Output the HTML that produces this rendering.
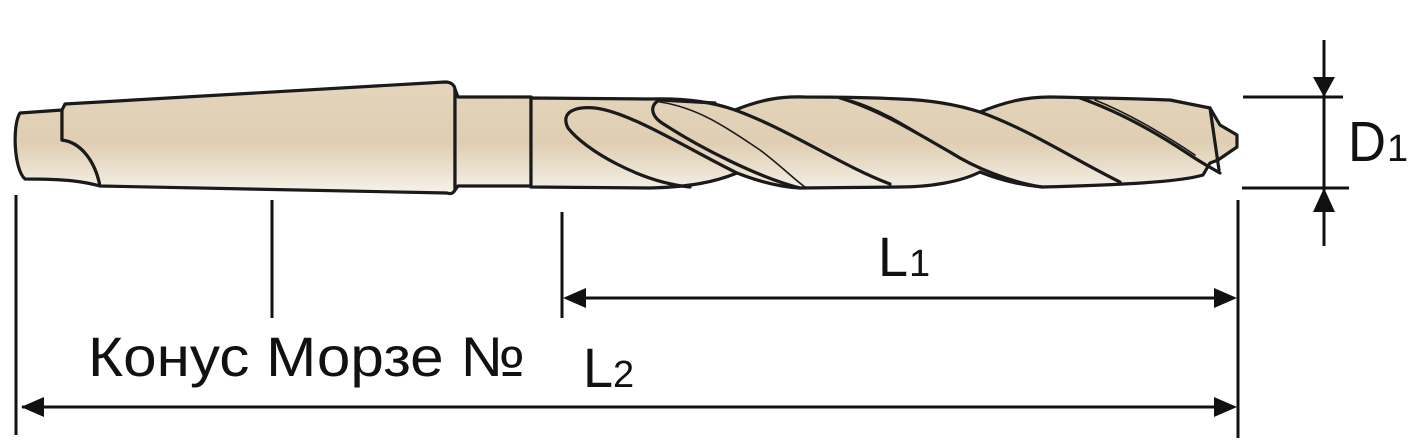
<!DOCTYPE html>
<html><head><meta charset="utf-8"><style>
html,body{margin:0;padding:0;background:#fff;}
svg{display:block;}
text{font-family:"Liberation Sans",sans-serif;fill:#111;}
</style></head><body>
<svg width="1418" height="443" viewBox="0 0 1418 443" xmlns="http://www.w3.org/2000/svg">
<defs>
<linearGradient id="g" x1="0" y1="0" x2="0" y2="1" gradientUnits="objectBoundingBox">
<stop offset="0" stop-color="#e6d7c0"/>
<stop offset="0.55" stop-color="#dfceb2"/>
<stop offset="1" stop-color="#f7f3ec"/>
</linearGradient>
<linearGradient id="gu" x1="0" y1="80" x2="0" y2="195" gradientUnits="userSpaceOnUse">
<stop offset="0" stop-color="#e4d5bd"/>
<stop offset="0.55" stop-color="#dfceb2"/>
<stop offset="1" stop-color="#f7f3ec"/>
</linearGradient>
</defs>
<g stroke="#1a1a1a" stroke-width="3.2" fill="url(#gu)" stroke-linejoin="round" stroke-linecap="round">
<!-- shank tip -->
<path d="M20,113 L62,110 L62,140 C80,142 95,160 100,186 C85,182 70,179 25,179 C14,170 12,125 20,113 Z"/>
<!-- taper -->
<path d="M62,110 L65,104 L445,82 C452,82 455,86 455,90 L455,190 C453,194 450,194 447,193 L100,186 C95,160 80,142 62,140 Z"/>
<!-- neck -->
<path d="M455,89 L458,97 L531,97 L531,186 L458,186 L455,190 Z"/>
<!-- body -->
<path d="M531,98 L650,99 C690,98 715,103 735,110 C760,100 780,96 805,97 C850,97 880,98 900,99 C930,100 955,104 980,112 C1005,102 1025,97 1050,97 C1100,98 1150,99 1170,100 L1210,108 L1220,125 L1237,135 L1237,147 L1218,160 L1210,163 L1203,175 C1180,182 1120,185 1042,187 C1020,185 1000,180 980,172 C960,182 930,187 900,187 L800,188 C780,187 760,182 737,173 C715,182 690,187 650,188 L531,187 Z"/>
</g>
<g stroke="#1a1a1a" stroke-width="3.2" fill="none" stroke-linejoin="round" stroke-linecap="round">
<!-- oval flute -->
<path d="M690,187 C640,182 585,150 568,128 C560,112 575,106 595,108 C630,112 690,150 737,173"/>
<!-- second flute edge -->
<path d="M715,103 L660,100 C650,104 650,115 662,123 C700,148 760,178 800,188"/>
<path d="M660,102 C700,108 730,130 760,150 C780,165 795,180 805,187" stroke-width="1.6"/>
<!-- descending lines -->
<path d="M735,110 C790,130 840,165 890,184"/>
<path d="M840,98 C880,110 920,135 950,152 C975,168 1010,182 1042,187"/>
<path d="M850,100 C890,112 925,138 955,156" stroke-width="1.6"/>
<path d="M980,112 C1030,130 1075,160 1120,182"/>
<path d="M1080,98 C1120,112 1160,135 1190,155 C1205,165 1215,170 1220,173"/>
<path d="M1095,100 C1130,114 1165,135 1195,155" stroke-width="1.6"/>
<path d="M1210,108 L1219,170"/>
</g>
<!-- dimension lines -->
<g stroke="#111" stroke-width="3" fill="none">
<line x1="16" y1="195" x2="16" y2="435"/>
<line x1="272" y1="200" x2="272" y2="318"/>
<line x1="562" y1="212" x2="562" y2="318"/>
<line x1="1238" y1="200" x2="1238" y2="438"/>
<line x1="568" y1="298" x2="1232" y2="298"/>
<line x1="22" y1="407" x2="1232" y2="407"/>
<line x1="1243" y1="97" x2="1343" y2="97"/>
<line x1="1242" y1="188" x2="1349" y2="188"/>
<line x1="1324" y1="40" x2="1324" y2="246"/>
</g>
<g fill="#111">
<polygon points="563,298 586,288 586,308"/>
<polygon points="1237,298 1214,288 1214,308"/>
<polygon points="21,407 44,397 44,417"/>
<polygon points="1237,407 1214,397 1214,417"/>
<polygon points="1324,97 1313,77 1335,77"/>
<polygon points="1324,188 1313,212 1335,212"/>
</g>
<text x="88" y="376" font-size="56" textLength="437" lengthAdjust="spacingAndGlyphs">Конус Морзе №</text>
<text x="583" y="387" font-size="56" textLength="30" lengthAdjust="spacingAndGlyphs">L</text>
<text x="613" y="387" font-size="38">2</text>
<text x="878" y="276" font-size="56" textLength="30" lengthAdjust="spacingAndGlyphs">L</text>
<text x="909" y="276" font-size="38">1</text>
<text x="1348" y="161" font-size="57" textLength="38" lengthAdjust="spacingAndGlyphs">D</text>
<text x="1387" y="161" font-size="38">1</text>
</svg>
</body></html>
